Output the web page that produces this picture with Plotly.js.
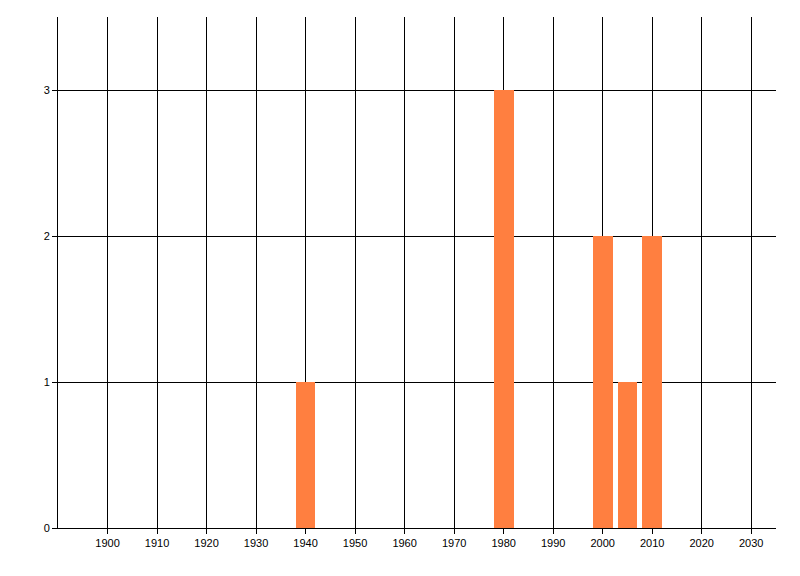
<!DOCTYPE html>
<html>
<head>
<meta charset="utf-8">
<script src="https://cdn.plot.ly/plotly-3.0.1.min.js"></script>
<style>html,body{margin:0;padding:0;background:#fff;}#chart{width:800px;height:576px;}</style>
</head>
<body>
<div id="chart"></div>
<script>
const years = [1940, 1980, 2000, 2005, 2010];
const counts = [1, 3, 2, 1, 2];
const xTicks = [1900, 1910, 1920, 1930, 1940, 1950, 1960, 1970, 1980, 1990, 2000, 2010, 2020, 2030];
const yTicks = [0, 1, 2, 3];

const data = [{
  type: 'bar',
  x: years,
  y: counts,
  width: 4,
  marker: {color: '#FF7F40', line: {width: 0}},
  hoverinfo: 'x+y'
}];

const layout = {
  width: 800, height: 576,
  margin: {l: 58, r: 24, t: 17, b: 48, pad: 0},
  paper_bgcolor: '#fff', plot_bgcolor: '#fff',
  showlegend: false,
  font: {family: 'Liberation Sans, Arial, sans-serif', size: 11, color: '#000'},
  xaxis: {
    range: [1890, 2035],
    tickvals: xTicks,
    ticktext: xTicks.map(String),
    showgrid: true, gridcolor: '#000', gridwidth: 1,
    showline: true, linecolor: '#000', linewidth: 1,
    ticks: 'outside', ticklen: 5, tickcolor: '#000', tickwidth: 1,
    zeroline: false, fixedrange: true
  },
  yaxis: {
    range: [0, 3.5],
    tickvals: yTicks,
    ticktext: yTicks.map(String),
    showgrid: true, gridcolor: '#000', gridwidth: 1,
    showline: true, linecolor: '#000', linewidth: 1,
    ticks: 'outside', ticklen: 5, tickcolor: '#000', tickwidth: 1,
    zeroline: false, fixedrange: true
  },
  bargap: 0
};

Plotly.newPlot('chart', data, layout, {displayModeBar: false, staticPlot: true});
</script>
</body>
</html>
